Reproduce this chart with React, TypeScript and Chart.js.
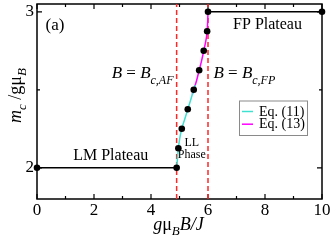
import React, { useEffect, useRef } from 'react';
import { Chart, registerables } from 'chart.js';

Chart.register(...registerables);

// ---- data ----
const pointB = [0, 4.9, 4.96, 5.08, 5.29, 5.5, 5.69, 5.85, 5.97, 6.0, 10];
const pointM = [2, 2, 2.125, 2.25, 2.375, 2.5, 2.625, 2.75, 2.875, 3, 3];

const plateauLMB = [0, 4.9];
const plateauLMM = [2, 2];
const plateauFPB = [6, 10];
const plateauFPM = [3, 3];

const eq11B = [4.9, 4.93, 4.96, 5.01, 5.08, 5.18, 5.29, 5.4, 5.5, 5.56];
const eq11M = [2.0, 2.06, 2.125, 2.19, 2.25, 2.31, 2.375, 2.44, 2.5, 2.53];
const eq13B = [5.45, 5.5, 5.6, 5.69, 5.78, 5.85, 5.92, 5.97, 5.99, 6.0];
const eq13M = [2.47, 2.5, 2.56, 2.625, 2.69, 2.75, 2.81, 2.875, 2.94, 3.0];

const criticalB = [4.9, 6.0];

const xTicks = [0, 2, 4, 6, 8, 10];
const xMinorTicks = [1, 3, 5, 7, 9];
const yTicks = [2, 3];
const yMinorTicks = [2.5];

const X_MIN = 0;
const X_MAX = 10;
const Y_MIN = 1.8;
const Y_MAX = 3.05;

const SERIF = '"Liberation Serif", "DejaVu Serif", serif';
const CYAN = 'rgb(64,224,208)';
const MAGENTA = 'rgb(255,0,255)';
const RED = 'rgb(255,40,40)';

const zip = (xs: number[], ys: number[]) => xs.map((x, i) => ({ x, y: ys[i] }));

type Seg = { t: string; it?: boolean; sub?: boolean };

function drawRich(
  ctx: CanvasRenderingContext2D,
  segs: Seg[],
  x: number,
  y: number,
  size: number,
  subSize: number,
  subDy: number,
  align: 'left' | 'center'
) {
  const font = (s: number, it?: boolean) => `${it ? 'italic ' : ''}${s}px ${SERIF}`;
  const widths = segs.map((s) => {
    ctx.font = font(s.sub ? subSize : size, s.it);
    return ctx.measureText(s.t).width;
  });
  const total = widths.reduce((a, b) => a + b, 0);
  let cx = align === 'center' ? x - total / 2 : x;
  ctx.textAlign = 'left';
  ctx.textBaseline = 'alphabetic';
  ctx.fillStyle = '#000';
  segs.forEach((s, i) => {
    ctx.font = font(s.sub ? subSize : size, s.it);
    ctx.fillText(s.t, cx, y + (s.sub ? subDy : 0));
    cx += widths[i];
  });
}

const framePlugin = {
  id: 'frameAndTicks',
  beforeDatasetsDraw(chart: any) {
    const { ctx, chartArea: a, scales } = chart;
    const xs = scales.x;
    const ys = scales.y;
    ctx.save();
    ctx.strokeStyle = '#000';
    ctx.lineWidth = 1.5;
    ctx.strokeRect(a.left, a.top, a.right - a.left, a.bottom - a.top);
    ctx.lineWidth = 1.2;
    const major = 5;
    const minor = 3;
    ctx.beginPath();
    const vt = (v: number, len: number) => {
      const px = xs.getPixelForValue(v);
      ctx.moveTo(px, a.bottom);
      ctx.lineTo(px, a.bottom - len);
      ctx.moveTo(px, a.top);
      ctx.lineTo(px, a.top + len);
    };
    const ht = (v: number, len: number) => {
      const py = ys.getPixelForValue(v);
      ctx.moveTo(a.left, py);
      ctx.lineTo(a.left + len, py);
      ctx.moveTo(a.right, py);
      ctx.lineTo(a.right - len, py);
    };
    xTicks.forEach((v) => vt(v, major));
    xMinorTicks.forEach((v) => vt(v, minor));
    yTicks.forEach((v) => ht(v, major));
    yMinorTicks.forEach((v) => ht(v, minor));
    ctx.stroke();
    ctx.restore();
  },
  afterDraw(chart: any) {
    const { ctx, chartArea: a, scales } = chart;
    const xs = scales.x;
    const ys = scales.y;
    const X = (v: number) => xs.getPixelForValue(v);
    const Y = (v: number) => ys.getPixelForValue(v);
    ctx.save();
    ctx.fillStyle = '#000';

    // annotations
    ctx.textBaseline = 'middle';
    ctx.textAlign = 'left';
    ctx.font = `17px ${SERIF}`;
    ctx.fillText('(a)', X(0.3), Y(2.912));
    ctx.font = `16px ${SERIF}`;
    ctx.fillText('FP Plateau', X(6.88), Y(2.914));
    ctx.fillText('LM Plateau', X(1.27), Y(2.075));
    ctx.textAlign = 'center';
    ctx.font = `12px ${SERIF}`;
    ctx.fillText('LL', X(5.43), Y(2.159));
    ctx.fillText('Phase', X(5.43), Y(2.08));

    drawRich(
      ctx,
      [{ t: 'B', it: true }, { t: ' = ' }, { t: 'B', it: true }, { t: 'c,AF', it: true, sub: true }],
      X(2.62),
      Y(2.573),
      17,
      12,
      5.5,
      'left'
    );
    drawRich(
      ctx,
      [{ t: 'B', it: true }, { t: ' = ' }, { t: 'B', it: true }, { t: 'c,FP', it: true, sub: true }],
      X(6.19),
      Y(2.573),
      17,
      12,
      5.5,
      'left'
    );

    // legend
    const lx = 239;
    const ly = 100.5;
    const lw = 68;
    const lh = 34.5;
    ctx.fillStyle = '#fff';
    ctx.fillRect(lx, ly, lw, lh);
    ctx.strokeStyle = '#8a8a8a';
    ctx.lineWidth = 1;
    ctx.strokeRect(lx + 0.5, ly + 0.5, lw, lh);
    const items = chart.data.datasets.filter((d: any) => d.inLegend);
    items.forEach((d: any, i: number) => {
      const cy = ly + 11 + i * 12.7;
      ctx.strokeStyle = d.borderColor;
      ctx.lineWidth = 1.5;
      ctx.beginPath();
      ctx.moveTo(lx + 3, cy);
      ctx.lineTo(lx + 14, cy);
      ctx.stroke();
      ctx.fillStyle = '#000';
      ctx.font = `14px ${SERIF}`;
      ctx.textAlign = 'left';
      ctx.textBaseline = 'middle';
      ctx.fillText(d.label, lx + 20, cy + 0.5);
    });

    // axis titles
    drawRich(
      ctx,
      [{ t: 'g', it: true }, { t: 'μ' }, { t: 'B', it: true, sub: true }, { t: 'B/J', it: true }],
      (a.left + a.right) / 2 - 1,
      a.bottom + 31,
      18,
      13,
      5,
      'center'
    );
    ctx.save();
    ctx.translate(21, (a.top + a.bottom) / 2 - 6);
    ctx.rotate(-Math.PI / 2);
    drawRich(
      ctx,
      [{ t: 'm', it: true }, { t: 'c', it: true, sub: true }, { t: ' /gμ' }, { t: 'B', it: true, sub: true }],
      0,
      0,
      18,
      13,
      5,
      'center'
    );
    ctx.restore();
    ctx.restore();
  },
};

export default function App() {
  const canvasRef = useRef<HTMLCanvasElement | null>(null);

  useEffect(() => {
    if (!canvasRef.current) return;
    const lineDs = (label: string, data: any[], color: string, order: number, extra: any = {}) => ({
      type: 'line',
      label,
      data,
      borderColor: color,
      backgroundColor: color,
      borderWidth: 1.5,
      pointRadius: 0,
      showLine: true,
      fill: false,
      tension: 0,
      order,
      ...extra,
    });
    const chart = new Chart(canvasRef.current, {
      type: 'scatter',
      data: {
        datasets: [
          {
            type: 'scatter',
            label: 'points',
            data: zip(pointB, pointM),
            backgroundColor: '#000',
            borderColor: '#000',
            pointRadius: 3.3,
            pointBorderWidth: 0,
            showLine: false,
            clip: false,
            order: 0,
          } as any,
          lineDs('Eq. (11)', zip(eq11B, eq11M), CYAN, 1, { inLegend: true, cubicInterpolationMode: 'monotone', tension: 0.4 }),
          lineDs('Eq. (13)', zip(eq13B, eq13M), MAGENTA, 2, { inLegend: true, cubicInterpolationMode: 'monotone', tension: 0.4 }),
          lineDs('LM', zip(plateauLMB, plateauLMM), '#000', 3),
          lineDs('FP', zip(plateauFPB, plateauFPM), '#000', 3),
          ...criticalB.map((b) =>
            lineDs('crit', [{ x: b, y: Y_MIN }, { x: b, y: Y_MAX }], RED, 4, { borderDash: [5, 3] })
          ),
        ] as any,
      },
      options: {
        animation: false,
        responsive: false,
        devicePixelRatio: 1,
        layout: { padding: { top: 1, right: 10, left: 0, bottom: 0 } },
        plugins: { legend: { display: false }, tooltip: { enabled: false } },
        scales: {
          x: {
            type: 'linear',
            min: X_MIN,
            max: X_MAX,
            afterBuildTicks: (s: any) => {
              s.ticks = xTicks.map((v) => ({ value: v }));
            },
            afterFit: (s: any) => {
              s.height = 43;
              s.paddingLeft = 0;
              s.paddingRight = 0;
              s.paddingTop = 0;
              s.paddingBottom = 0;
            },
            grid: { display: false, drawTicks: false },
            border: { display: false },
            ticks: {
              font: { family: SERIF, size: 17 },
              color: '#000',
              padding: 1,
              maxRotation: 0,
              autoSkip: false,
            },
          },
          y: {
            type: 'linear',
            min: Y_MIN,
            max: Y_MAX,
            afterBuildTicks: (s: any) => {
              s.ticks = yTicks.map((v) => ({ value: v }));
            },
            afterFit: (s: any) => {
              s.width = 37;
              s.paddingLeft = 0;
              s.paddingRight = 0;
              s.paddingTop = 0;
              s.paddingBottom = 0;
            },
            grid: { display: false, drawTicks: false },
            border: { display: false },
            ticks: {
              font: { family: SERIF, size: 17 },
              color: '#000',
              padding: 3,
              autoSkip: false,
            },
          },
        },
      } as any,
      plugins: [framePlugin as any],
    });
    return () => chart.destroy();
  }, []);

  return (
    <div style={{ position: 'absolute', left: 0, top: 0, width: 332, height: 242, background: '#fff' }}>
      <canvas ref={canvasRef} width={332} height={242} style={{ width: 332, height: 242 }} />
    </div>
  );
}
